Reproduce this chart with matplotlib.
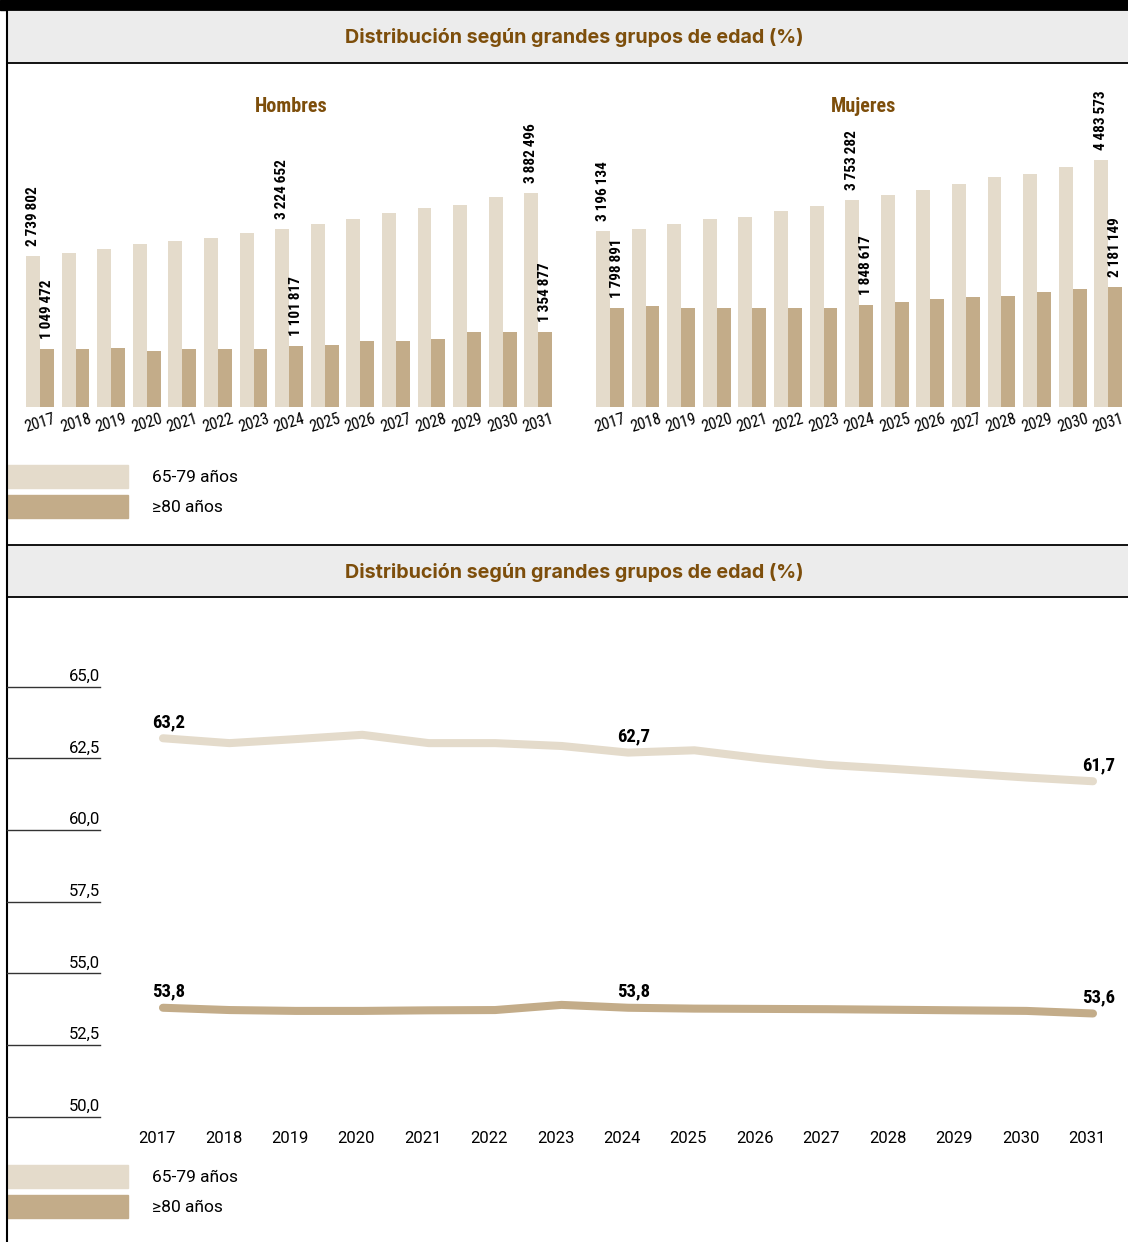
import matplotlib
matplotlib.use('Agg')
import matplotlib.pyplot as plt
from matplotlib.patches import Rectangle
from matplotlib.transforms import ScaledTranslation
import numpy as np

# datos
years = list(range(2017, 2032))
hombres_65_79 = [2739802, 2794000, 2867000, 2958000, 3012000, 3067000, 3158000, 3224652,
                 3322000, 3412000, 3522000, 3612000, 3667000, 3812000, 3882496]
hombres_80 = [1049472, 1049000, 1067000, 1013000, 1049000, 1049000, 1049000, 1101817,
              1122000, 1195000, 1195000, 1235000, 1354000, 1354000, 1354877]
mujeres_65_79 = [3196134, 3232000, 3322000, 3412000, 3448000, 3556000, 3646000, 3753282,
                 3844000, 3934000, 4042000, 4168000, 4222000, 4348000, 4483573]
mujeres_80 = [1798891, 1835000, 1799000, 1799000, 1799000, 1799000, 1799000, 1848617,
              1907000, 1961000, 1997000, 2015000, 2088000, 2142000, 2181149]
pct_65_79 = [63.2, 63.03, 63.17, 63.32, 63.03, 63.03, 62.93, 62.7,
             62.78, 62.5, 62.27, 62.13, 61.98, 61.83, 61.7]
pct_80 = [53.8, 53.72, 53.69, 53.69, 53.71, 53.72, 53.9, 53.8,
          53.77, 53.76, 53.75, 53.73, 53.71, 53.69, 53.6]
labeled = [0, 7, 14]
yticks_pct = [50.0, 52.5, 55.0, 57.5, 60.0, 62.5, 65.0]
series_names = ['65-79 años', '≥80 años']
title = 'Distribución según grandes grupos de edad (%)'

LIGHT = '#e4dbcb'
DARK = '#c3ac89'
BROWN = '#7d4e0b'
NARROW = ['Roboto Condensed', 'DejaVu Sans']
REG = ['Roboto', 'DejaVu Sans']
HEAD = ['Inter', 'DejaVu Sans']

W, H = 1128, 1242
fig = plt.figure(figsize=(W / 100, H / 100), dpi=100)


def px_axes(x0, y0, x1, y1):
    return fig.add_axes([x0 / W, 1 - y1 / H, (x1 - x0) / W, (y1 - y0) / H])


def fmt_int(v):
    return f'{v:,}'.replace(',', '\u2009')


def fmt_pct(v):
    return f'{v:.1f}'.replace('.', ',')


# fondo, cabeceras y marcos
bg = px_axes(0, 0, W, H)
bg.set_xlim(0, W)
bg.set_ylim(H, 0)
bg.axis('off')
bg.add_patch(Rectangle((0, 0), W, 10, color='black'))
heads = []
for top, bottom in [(10, 63), (545, 597)]:
    bg.add_patch(Rectangle((7, top), W - 7, bottom - top, facecolor='#ececec', edgecolor='none'))
    bg.plot([7, W], [bottom, bottom], color='black', lw=1.3)
    bg.plot([7, W], [top, top], color='black', lw=1.3)
    heads.append(bg.text(574, (top + bottom) / 2 + 1, title, ha='center', va='center', color=BROWN,
                         fontsize=13, fontweight='bold', family=HEAD))
bg.plot([7, 7], [0, H], color='black', lw=1.5)

for y0, y1 in [(465, 518), (1165, 1218)]:
    bg.add_patch(Rectangle((7, y0), 121, 23, color=LIGHT))
    bg.add_patch(Rectangle((7, y1 - 23), 121, 23, color=DARK))
    bg.text(152, y0 + 12, series_names[0], va='center', fontsize=12.5, family=REG)
    bg.text(152, y1 - 11, series_names[1], va='center', fontsize=12.5, family=REG)

bg.text(291, 106, 'Hombres', ha='center', va='center', color=BROWN, fontsize=14.5,
        fontweight='bold', family=NARROW)
bg.text(864, 106, 'Mujeres', ha='center', va='center', color=BROWN, fontsize=14.5,
        fontweight='bold', family=NARROW)


# barras
def bar_panel(ax, a, b):
    x = np.arange(len(years))
    w = 0.39
    ax.bar(x - w / 2, a, w, color=LIGHT)
    ax.bar(x + w / 2, b, w, color=DARK)
    for i in labeled:
        ax.annotate(fmt_int(a[i]), (x[i] - w / 2, a[i]), xytext=(0, 7), textcoords='offset points',
                    rotation=90, ha='center', va='bottom', fontsize=11, fontweight='bold',
                    family=NARROW)
        ax.annotate(fmt_int(b[i]), (x[i] + w / 2, b[i]), xytext=(0, 7), textcoords='offset points',
                    rotation=90, ha='center', va='bottom', fontsize=11, fontweight='bold',
                    family=NARROW)
    ax.set_xlim(-0.42, 14.47)
    ax.set_ylim(0, 5.2e6)
    ax.set_xticks(x, [str(y) for y in years], rotation=17, fontsize=11.5, family=NARROW)
    ax.set_yticks([])
    ax.tick_params(length=0, pad=3)
    for s in ax.spines.values():
        s.set_visible(False)
    ax.patch.set_alpha(0)


bar_panel(px_axes(25, 120, 555, 407), hombres_65_79, hombres_80)
bar_panel(px_axes(595, 120, 1125, 407), mujeres_65_79, mujeres_80)

# lineas
ax = px_axes(7, 629.3, W, 1116.7)
ax.patch.set_alpha(0)
ax.set_xlim(2014.652, 2031.527)
ax.set_ylim(50, 67)
for vals, col in [(pct_65_79, LIGHT), (pct_80, DARK)]:
    ax.plot(years, vals, color=col, lw=5.8, solid_capstyle='round', solid_joinstyle='round',
            clip_on=False)
    for i in labeled:
        ax.annotate(fmt_pct(vals[i]), (years[i], vals[i]), xytext=(4, 5), textcoords='offset points',
                    ha='center', va='bottom', fontsize=13.5, fontweight='bold', family=NARROW)
ytr = ax.get_yaxis_transform()
for v in yticks_pct:
    ax.plot([0, 0.083], [v, v], transform=ytr, color='#333333', lw=1, clip_on=False)
    ax.annotate(fmt_pct(v), (0.083, v), xycoords=ytr, xytext=(0, 2), textcoords='offset points',
                ha='right', va='bottom', fontsize=12, family=REG)
ax.set_xticks(years, [str(y) for y in years], fontsize=12, family=REG)
ax.set_yticks([])
ax.tick_params(length=0, pad=10)
shift = ScaledTranslation(-6 / 100, 0, fig.dpi_scale_trans)
for lbl in ax.get_xticklabels():
    lbl.set_transform(lbl.get_transform() + shift)
for s in ax.spines.values():
    s.set_visible(False)

# ajustar el ancho de la cabecera al de la referencia
fig.canvas.draw()
for t in heads:
    wpx = t.get_window_extent().width
    t.set_fontsize(t.get_fontsize() * 461 / wpx)

fig.savefig('out.png', dpi=100)
